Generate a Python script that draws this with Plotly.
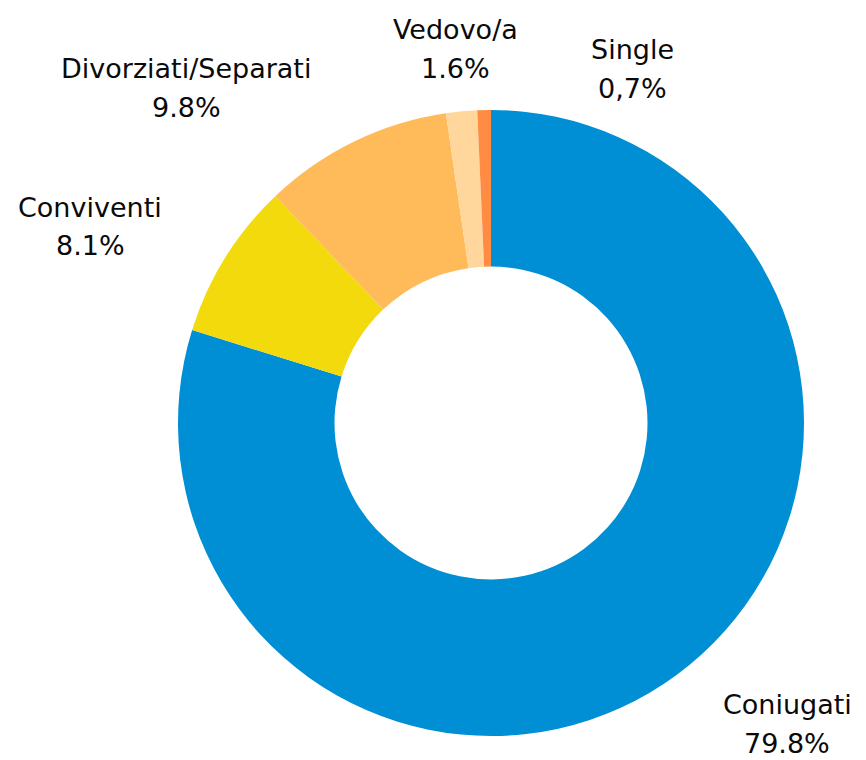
import plotly.graph_objects as go

# stato civile
labels = ['Coniugati', 'Conviventi', 'Divorziati/Separati', 'Vedovo/a', 'Single']
values = [79.8, 8.1, 9.8, 1.6, 0.7]
pct_text = ['79.8%', '8.1%', '9.8%', '1.6%', '0,7%']

colors = ['#008fd5', '#f2da0c', '#ffba5a', '#ffd69c', '#ff8c42']

W, H = 866, 760
OFF = 8  # page body margin
# label centres in pixels (x, y of the name line)
label_pos = [(787, 704), (90, 207), (186, 68), (455, 30), (632, 49)]

cx, cy, r = 491 - OFF, 423 - OFF, 313

fig = go.Figure(go.Pie(
    labels=labels,
    values=values,
    hole=0.5,
    sort=False,
    direction='clockwise',
    rotation=0,
    marker=dict(colors=colors, line=dict(width=0)),
    textinfo='none',
    hoverinfo='label+percent',
    showlegend=False,
    domain=dict(x=[(cx - r) / W, (cx + r) / W], y=[1 - (cy + r) / H, 1 - (cy - r) / H]),
))

font_name = 'DejaVu Sans'
for lab, pct, (px, py) in zip(labels, pct_text, label_pos):
    px, py = px - OFF, py - OFF
    fig.add_annotation(x=px / W, y=1 - py / H, xref='paper', yref='paper', text=lab,
                       showarrow=False, xanchor='center', yanchor='middle', borderpad=0,
                       font=dict(family=font_name, size=27, color='#0a0a0a'))
    fig.add_annotation(x=px / W, y=1 - (py + 39) / H, xref='paper', yref='paper', text=pct,
                       showarrow=False, xanchor='center', yanchor='middle', borderpad=0,
                       font=dict(family=font_name, size=27, color='#0a0a0a'))

fig.update_layout(
    width=W, height=H,
    margin=dict(l=0, r=0, t=0, b=0),
    paper_bgcolor='white',
    plot_bgcolor='white',
)

fig.write_html("out.html")
